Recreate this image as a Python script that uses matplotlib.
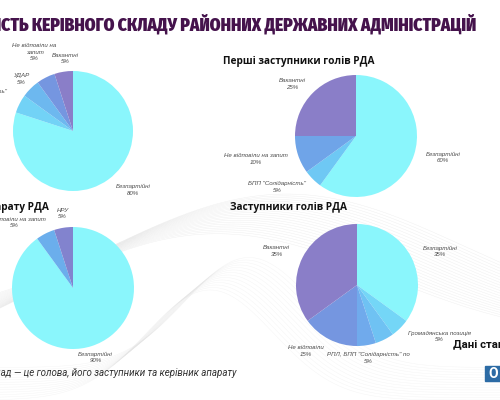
import numpy as np
import matplotlib
matplotlib.use('Agg')
import matplotlib.pyplot as plt
from matplotlib.patches import Rectangle
from matplotlib import font_manager as fm
from matplotlib.ft2font import FT2Font

W, H = 500, 400

# --- data -------------------------------------------------------------
heads_labels = ['Безпартійні', 'БПП "Солідарність"', 'УДАР', 'Не відповіли на\nзапит', 'Вакантні']
heads_values = [80, 5, 5, 5, 5]

first_dep_labels = ['Безпартійні', 'БПП "Солідарність"', 'Не відповіли на запит', 'Вакантні']
first_dep_values = [60, 5, 10, 25]

staff_labels = ['Безпартійні', 'Не відповіли на запит', 'НРУ']
staff_values = [90, 5, 5]

dep_labels = ['Безпартійні', 'Громадянська позиція', '', 'РПЛ, БПП "Солідарність" по', 'Не відповіли', 'Вакантні']
dep_values = [35, 5, 5, 5, 15, 35]

CYAN = '#8AF6FC'
heads_colors = [CYAN, '#72D2F6', '#6DB8EF', '#7596E0', '#8A7EC8']
first_dep_colors = [CYAN, '#6EC8F4', '#6FA4E8', '#8A7EC8']
staff_colors = [CYAN, '#6BAEEC', '#8283CE']
dep_colors = [CYAN, '#74D6F7', '#6FC2F3', '#70AAEC', '#7596E0', '#8A7EC8']

# label placement: (distance in radii, angle shift in degrees)
heads_pos = [(1.4, 9.5), (1.7, 6), (1.23, 0), (1.46, -1), (1.22, -3)]
first_dep_pos = [(1.47, 4), (1.54, -12), (1.68, -5), (1.35, 6)]
staff_pos = [(1.2, 0), (1.45, 15), (1.23, -1)]
dep_pos = [(1.47, -5), (1.6, 13), (1.2, 0), (1.21, 0), (1.37, -11), (1.43, 4)]

TITLE = 'ПАРТІЙНІСТЬ КЕРІВНОГО СКЛАДУ РАЙОННИХ ДЕРЖАВНИХ АДМІНІСТРАЦІЙ'
TITLE_SHOWN = 'СТЬ КЕРІВНОГО СКЛАДУ РАЙОННИХ ДЕРЖАВНИХ АДМІНІСТРАЦІЙ'

fig = plt.figure(figsize=(5, 4), dpi=100)
fig.patch.set_facecolor('white')

# faint decorative waves in the background
bg = fig.add_axes([0, 0, 1, 1], zorder=0)
bg.set_xlim(0, W)
bg.set_ylim(H, 0)
bg.axis('off')
xs = np.linspace(0, W, 300)
for i in range(22):
    yy = 262 + i * 1.8 - 50 * np.sin((xs - 40 + i * 2) / 160) + 18 * np.cos(xs / 90 + i * 0.05)
    bg.plot(xs, yy, color='#dcdcdc', lw=0.3, alpha=0.5)
for i in range(14):
    yy = 400 - i * 2.5 - 110 * np.exp(-((xs - 210 - i * 3) / 90) ** 2)
    bg.plot(xs, yy, color='#e2e2e2', lw=0.3, alpha=0.4)


def draw_pie(cx, cy, r, values, labels, colors, pos):
    ax = fig.add_axes([(cx - r) / W, 1 - (cy + r) / H, 2 * r / W, 2 * r / H], zorder=2)
    wedges, _ = ax.pie(values, colors=colors, startangle=90, counterclock=False,
                       wedgeprops=dict(linewidth=0))
    ax.set_xlim(-1, 1)
    ax.set_ylim(-1, 1)
    ax.set_aspect('equal')
    ax.axis('off')
    for w, lab, val, (d, da) in zip(wedges, labels, values, pos):
        if not lab:
            continue
        ang = np.deg2rad((w.theta1 + w.theta2) / 2 + da)
        ax.text(d * np.cos(ang), d * np.sin(ang), f'{lab}\n{val}%',
                ha='center', va='center', fontsize=4.4, style='italic',
                family='Liberation Sans', color='#4a4a4a', linespacing=1.35,
                clip_on=False)
    return ax


draw_pie(73, 131, 60, heads_values, heads_labels, heads_colors, heads_pos)
draw_pie(356, 136, 61, first_dep_values, first_dep_labels, first_dep_colors, first_dep_pos)
draw_pie(73, 288, 61, staff_values, staff_labels, staff_colors, staff_pos)
draw_pie(357, 285, 61, dep_values, dep_labels, dep_colors, dep_pos)


def covers(fname, text):
    try:
        cmap = FT2Font(fname).get_charmap()
    except Exception:
        return False
    return all(ord(c) in cmap for c in set(text) if c != ' ')


# pick the narrowest bold face with Cyrillic for the title
rank = {'ultra-condensed': 0, 'extra-condensed': 1, 'condensed': 2, 'semi-condensed': 3}
wmap = {'bold': 700, 'heavy': 800, 'black': 900, 'extra bold': 800, 'semibold': 600, 'demibold': 600}
best = None
for f in fm.fontManager.ttflist:
    w = f.weight if isinstance(f.weight, int) else wmap.get(str(f.weight).lower(), 400)
    if w < 600 or f.style != 'normal' or 'CJK' in f.name:
        continue
    r = rank.get(f.stretch, 9)
    if 'narrow' in f.name.lower() or 'condensed' in f.name.lower():
        r = min(r, 2)
    if r == 9:
        continue
    if not covers(f.fname, TITLE):
        continue
    if best is None or (r, -w) < best[0]:
        best = ((r, -w), f)
if best is not None:
    title_fp = fm.FontProperties(fname=best[1].fname)
else:
    title_fp = fm.FontProperties(family='DejaVu Sans', weight='bold')

renderer = fig.canvas.get_renderer()
probe = fig.text(0, 0, TITLE_SHOWN, fontproperties=title_fp, fontsize=12)
tw = probe.get_window_extent(renderer).width
probe.remove()
tsize = min(17, 12 * 476 / tw)

fig.text(476 / W, 1 - 24 / H, TITLE, ha='right', va='center', fontproperties=title_fp,
         fontsize=tsize, color='#45134C')
fig.text(223 / W, 1 - 61 / H, 'Перші заступники голів РДА', ha='left', va='center',
         fontsize=7.3, fontweight='bold', family='Open Sans', color='#111111')
fig.text(49 / W, 1 - 207 / H, 'Керівники апарату РДА', ha='right', va='center',
         fontsize=7.3, fontweight='bold', family='Open Sans', color='#111111')
fig.text(230 / W, 1 - 207 / H, 'Заступники голів РДА', ha='left', va='center',
         fontsize=7.3, fontweight='bold', family='Open Sans', color='#111111')

fig.text(237 / W, 1 - 373 / H, 'Керівний склад — це голова, його заступники та керівник апарату',
         ha='right', va='center', fontsize=7.0, style='italic', family='Roboto', color='#333333')
fig.text(453 / W, 1 - 344 / H, 'Дані станом на', ha='left', va='center',
         fontsize=8.2, fontweight='bold', family='Roboto', color='#111111')

# logo box
fig.patches.append(Rectangle((485 / W, 1 - 381 / H), 20 / W, 15 / H,
                             transform=fig.transFigure, color='#2C6BA5', zorder=3))
fig.text(488 / W, 1 - 373.5 / H, 'О', ha='left', va='center', fontsize=10,
         fontweight='bold', family='Roboto', color='white', zorder=4)

fig.savefig('out.png', dpi=100, facecolor='white')
